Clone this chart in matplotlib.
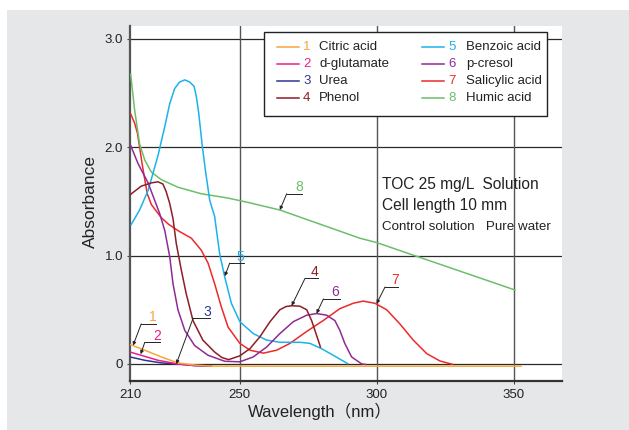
import matplotlib
matplotlib.use("Agg")
import matplotlib.pyplot as plt
from matplotlib.patches import Rectangle
from matplotlib.lines import Line2D

plt.rcParams['font.family'] = ['Liberation Sans', 'DejaVu Sans']

# --- data ------------------------------------------------------------------
names = ['Citric acid', 'd-glutamate', 'Urea', 'Phenol',
         'Benzoic acid', 'p-cresol', 'Salicylic acid', 'Humic acid']
colors = ['#f7a63c', '#ec1c8c', '#2e3592', '#8e1d26',
          '#1cb2ea', '#8f2b95', '#ed2a2a', '#6cbf68']

wl_citric = [210, 215.4, 221.4, 227.5, 233.6, 240, 353]
ab_citric = [0.18, 0.127, 0.065, 0.01, -0.01, -0.02, -0.02]

wl_gluta = [210, 214.1, 220.2, 227.5, 233.6, 240]
ab_gluta = [0.11, 0.08, 0.034, 0.0, -0.015, -0.02]

wl_urea = [210, 215.4, 221.4, 227.5, 233.6, 240]
ab_urea = [0.065, 0.034, 0.01, 0.0, -0.015, -0.02]

wl_phenol = [210, 214.1, 217.8, 220.2, 222.0, 223.2, 224.5, 225.7, 226.9,
             228.7, 230.5, 233.0, 236.6, 240.9, 243.5, 246.0, 250.1, 253.8,
             257.4, 261.1, 264.7, 267.0, 269.0, 272.0, 274.5, 276.3, 277.5,
             278.7, 279.6]
ab_phenol = [1.56, 1.64, 1.67, 1.68, 1.66, 1.59, 1.48, 1.34, 1.11,
             0.87, 0.65, 0.40, 0.22, 0.11, 0.06, 0.04, 0.075, 0.142,
             0.25, 0.39, 0.50, 0.53, 0.537, 0.533, 0.50, 0.40, 0.31,
             0.22, 0.15]

wl_benzoic = [210.3, 213.5, 216.6, 220.2, 222.7, 224.5, 226.3, 228.1, 230.0,
              231.8, 233.4, 234.2, 235.1, 236.3, 237.5, 239.1, 240.9, 242.7,
              244.6, 247.0, 250.1, 255.0, 259.9, 264.7, 272.0, 275.7, 280.0,
              284.2, 289.7]
ab_benzoic = [1.28, 1.42, 1.60, 1.92, 2.19, 2.40, 2.54, 2.60, 2.62,
              2.60, 2.56, 2.47, 2.31, 2.03, 1.79, 1.51, 1.36, 1.02,
              0.80, 0.56, 0.39, 0.28, 0.22, 0.20, 0.20, 0.19, 0.14,
              0.08, 0.0]

wl_cresol = [210, 212.9, 216.6, 219.0, 220.8, 222.7, 224.5, 225.7, 227.5,
             230.0, 233.6, 238.5, 244.6, 250.1, 255.0, 259.9, 264.7, 269.6,
             274.5, 278.1, 281.8, 284.8, 286.6, 288.4, 290.9, 294.6, 296.4]
ab_cresol = [2.03, 1.85, 1.67, 1.51, 1.39, 1.23, 0.99, 0.74, 0.50,
             0.31, 0.17, 0.08, 0.025, 0.02, 0.065, 0.157, 0.28, 0.39,
             0.45, 0.465, 0.45, 0.40, 0.31, 0.19, 0.065, 0.0, -0.005]

wl_salicyl = [210.2, 211.7, 212.7, 213.5, 214.4, 215.4, 216.3, 217.8, 221.4,
              224.0, 227.5, 232.4, 236.0, 238.5, 240.9, 243.3, 245.8, 250.1,
              253.8, 258.7, 263.5, 268.4, 274.5, 280.5, 286.6, 291.5, 295.1,
              299.4, 303.7, 308.5, 313.4, 318.3, 323.1, 328.0]
ab_salicyl = [2.31, 2.22, 2.13, 2.00, 1.85, 1.70, 1.57, 1.47, 1.35,
              1.29, 1.23, 1.16, 1.05, 0.93, 0.74, 0.53, 0.34, 0.19,
              0.127, 0.10, 0.127, 0.19, 0.30, 0.40, 0.51, 0.56, 0.58,
              0.56, 0.50, 0.37, 0.22, 0.096, 0.028, -0.005]

wl_humic = [210.2, 211.7, 213.5, 215.4, 217.8, 221.4, 227.5, 236.0, 245.8,
            253.1, 264.7, 293.9, 300.0, 350.8]
ab_humic = [2.68, 2.34, 2.03, 1.88, 1.77, 1.70, 1.63, 1.57, 1.53,
            1.49, 1.42, 1.16, 1.12, 0.68]

# callout labels: number, point on curve, elbow, end of underline, text pos
callouts = [
    ('1', (211.1, 0.17), (214.1, 0.37), 219.6, (218.4, 0.435)),
    ('2', (213.9, 0.09), (215.4, 0.20), 220.8, (220.0, 0.26)),
    ('3', (226.9, 0.0), (233.0, 0.42), 239.1, (238.2, 0.48)),
    ('4', (269.0, 0.537), (273.9, 0.79), 278.7, (277.5, 0.85)),
    ('5', (244.6, 0.81), (246.4, 0.93), 251.6, (250.4, 0.99)),
    ('6', (278.1, 0.465), (280.6, 0.60), 286.6, (284.8, 0.66)),
    ('7', (300.0, 0.555), (303.1, 0.71), 308.0, (306.7, 0.77)),
    ('8', (264.7, 1.42), (267.2, 1.57), 272.7, (271.7, 1.63)),
]

xticks = [210, 250, 300, 350]
yticks = [0, 1.0, 2.0, 3.0]
yticklabels = ['0', '1.0', '2.0', '3.0']

# --- figure ----------------------------------------------------------------
W, H = 629, 430
fig = plt.figure(figsize=(W / 100, H / 100), dpi=100)


def fx(px):
    return px / W


def fy(py):
    return 1 - py / H


fig.patches.append(Rectangle((fx(7), 0), 1 - fx(7), fy(10), transform=fig.transFigure,
                             facecolor='#e6e7e8', edgecolor='none', zorder=-5))

ax = fig.add_axes([fx(130), fy(381), fx(562) - fx(130), fy(26) - fy(381)])
ax.set_facecolor('white')
ax.set_xlim(210, 367.7)
ax.set_ylim(-0.157, 3.117)

for y in yticks:
    ax.axhline(y, color='#2a2a2a', lw=0.9, zorder=1)
for x in xticks[1:]:
    ax.axvline(x, color='#555555', lw=1.0, zorder=1)

series = [(wl_salicyl, ab_salicyl, 6), (wl_humic, ab_humic, 7),
          (wl_benzoic, ab_benzoic, 4), (wl_cresol, ab_cresol, 5),
          (wl_phenol, ab_phenol, 3), (wl_urea, ab_urea, 2),
          (wl_gluta, ab_gluta, 1), (wl_citric, ab_citric, 0)]
for xs, ys, i in series:
    ax.plot(xs, ys, color=colors[i], lw=1.1, zorder=3, solid_capstyle='butt',
            solid_joinstyle='round')

for num, pt, elbow, xend, tpos in callouts:
    ax.plot([elbow[0], xend], [elbow[1], elbow[1]], color='#222222', lw=0.7, zorder=4)
    ax.annotate('', xy=pt, xytext=elbow,
                arrowprops=dict(arrowstyle='-|>', color='#222222', lw=0.7,
                                mutation_scale=5, shrinkA=0, shrinkB=0), zorder=4)
    ax.text(tpos[0], tpos[1], num, color=colors[int(num) - 1], fontsize=10,
            ha='center', va='center', zorder=4)

ax.set_xticks(xticks)
ax.set_yticks(yticks)
ax.set_yticklabels(yticklabels)
ax.tick_params(axis='both', length=2, width=0.8, color='#444444',
               labelsize=9.5, labelcolor='#222222')
ax.tick_params(axis='x', pad=4)
ax.tick_params(axis='y', pad=3)
for s in ['top', 'right']:
    ax.spines[s].set_visible(False)
ax.spines['left'].set_color('#555555')
ax.spines['left'].set_linewidth(1.6)
ax.spines['bottom'].set_color('#333333')
ax.spines['bottom'].set_linewidth(1.6)

fig.text(fx(90), fy(201), 'Absorbance', rotation=90, fontsize=12.5,
         ha='center', va='center', color='#222222')
fig.text(fx(319.5), fy(411.5), 'Wavelength（nm）', fontsize=12,
         ha='center', va='center', color='#222222',
         family=['Liberation Sans', 'Noto Sans CJK JP'])

# legend box drawn by hand
fig.patches.append(Rectangle((fx(264), fy(115.7)), fx(546.7) - fx(264), fy(31.7) - fy(115.7),
                             transform=fig.transFigure, facecolor='white',
                             edgecolor='#222222', lw=1.0, zorder=5))
rows = [46.7, 63.6, 80.7, 97.7]
cols = [(277.3, 299.3, 306.7, 319.3), (421.7, 444.0, 451.7, 466.0)]
for i, name in enumerate(names):
    c = cols[i // 4]
    r = rows[i % 4]
    fig.add_artist(Line2D([fx(c[0]), fx(c[1])], [fy(r), fy(r)], color=colors[i],
                          lw=1.1, transform=fig.transFigure, zorder=6))
    fig.text(fx(c[2]), fy(r), str(i + 1), color=colors[i], fontsize=9.5,
             ha='center', va='center', zorder=6)
    fig.text(fx(c[3]), fy(r), name, color='#222222', fontsize=9.5,
             ha='left', va='center', zorder=6)

fig.text(fx(381.5), fy(185), 'TOC 25 mg/L  Solution', fontsize=11.2,
         ha='left', va='center', color='#222222')
fig.text(fx(381.5), fy(205.5), 'Cell length 10 mm', fontsize=11.2,
         ha='left', va='center', color='#222222')
fig.text(fx(381.5), fy(226.5), 'Control solution   Pure water', fontsize=9.6,
         ha='left', va='center', color='#222222')

fig.savefig('out.png', dpi=100, facecolor='white')
